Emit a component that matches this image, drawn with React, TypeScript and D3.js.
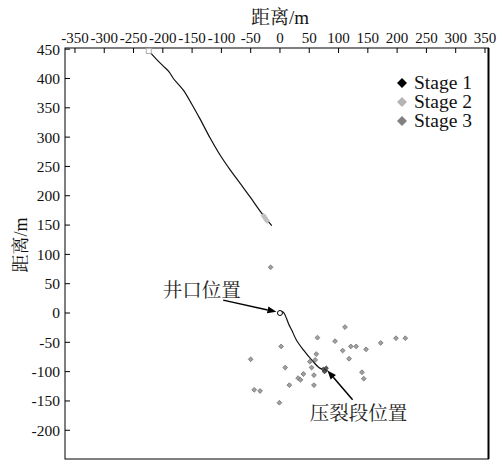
import React from "react";
import * as d3 from "d3";

const W = 497;
const H = 460;

const xTicks = [-350, -300, -250, -200, -150, -100, -50, 0, 50, 100, 150, 200, 250, 300, 350];
const yTicks = [450, 400, 350, 300, 250, 200, 150, 100, 50, 0, -50, -100, -150, -200];

// Upper trajectory
const trajAx = [-224, -212, -200, -189, -182, -165, -151, -137, -119, -102, -85, -68, -51, -31, -14];
const trajAy = [447, 434, 422, 411, 400, 380, 357, 332, 298, 269, 244, 221, 198, 170, 149];

// Lower trajectory (from wellhead)
const trajBx = [0, 3, 7, 11, 15, 20, 28, 40, 54, 68, 77];
const trajBy = [0, 3, 0, -9, -19, -29, -46, -63, -80, -94, -97];

// Stage 1 events (black)
const s1x = [74, 78, 76, 79];
const s1y = [-96, -98, -100, -94];

// Stage 2 events (light gray)
const s2x = [-28, -26, -24, -22];
const s2y = [166, 163, 160, 157];

// Stage 3 events (gray)
const s3x = [111, 64, 94, 2, 121, 130, 172, 198, 214, 147, 107, -50, 62, 118, 51, 60, 54, 9, 140, 143, 40, 58, 31, 35, 16, 58, -44, -34, -1, -16];
const s3y = [-24, -42, -48, -57, -57, -57, -51, -43, -43, -62, -64, -79, -70, -78, -83, -80, -93, -93, -101, -112, -104, -106, -111, -114, -123, -123, -131, -133, -153, 78];

const legendLabels = ["Stage 1", "Stage 2", "Stage 3"];
const legendColors = ["#000000", "#b4b4b4", "#808080"];

// Annotations (data coords)
const ann1 = { text: "井口位置", tx: -200, ty: 27, x1: -97, y1: 22, x2: -6, y2: 2 };
const ann2 = { text: "压裂段位置", tx: 51, ty: -182, x1: 124, y1: -148, x2: 81, y2: -98 };

const FONT = "Liberation Serif, Noto Serif CJK SC, serif";
const CJK = "Noto Serif CJK SC, serif";

function diamond(cx: number, cy: number, r: number) {
  return `M${cx},${cy - r}L${cx + r},${cy}L${cx},${cy + r}L${cx - r},${cy}Z`;
}

export default function App() {
  const left = 65, right = 488.5, top = 48, bottom = 459;
  const x = d3.scaleLinear().domain([-367, 356]).range([left, right]);
  const y = d3.scaleLinear().domain([452, -249]).range([top, bottom]);

  const line = d3.line<[number, number]>().x((d) => x(d[0])).y((d) => y(d[1])).curve(d3.curveCatmullRom);
  const trajA = trajAx.map((v, i) => [v, trajAy[i]] as [number, number]);
  const trajB = trajBx.map((v, i) => [v, trajBy[i]] as [number, number]);

  const arrow = (a: typeof ann1, key: string) => {
    const X1 = x(a.x1), Y1 = y(a.y1), X2 = x(a.x2), Y2 = y(a.y2);
    const ang = Math.atan2(Y2 - Y1, X2 - X1);
    const L = 9, Wd = 3.5;
    const bx = X2 - L * Math.cos(ang), by = Y2 - L * Math.sin(ang);
    const p1 = [bx + Wd * Math.sin(ang), by - Wd * Math.cos(ang)];
    const p2 = [bx - Wd * Math.sin(ang), by + Wd * Math.cos(ang)];
    return (
      <g key={key}>
        <line x1={X1} y1={Y1} x2={bx} y2={by} stroke="#000" strokeWidth={1.5} />
        <path d={`M${X2},${Y2}L${p1[0]},${p1[1]}L${p2[0]},${p2[1]}Z`} fill="#000" />
        <text x={x(a.tx)} y={y(a.ty)} fontSize={19.5} style={{ fontFamily: CJK }} fill="#222">{a.text}</text>
      </g>
    );
  };

  const tstyle = { fontFamily: FONT };

  return (
    <svg width={W} height={H} style={{ position: "absolute", left: 0, top: 0, background: "#fff" }}>
      <rect x={0} y={0} width={W} height={H} fill="#fff" />
      {/* Frame */}
      <rect x={left} y={top} width={right - left} height={bottom - top} fill="none" stroke="#000" strokeWidth={1} />
      <line x1={right} y1={top} x2={right} y2={bottom} stroke="#000" strokeWidth={2} />

      {/* Top x axis */}
      {xTicks.map((t) => (
        <g key={"xt" + t}>
          <line x1={x(t)} x2={x(t)} y1={top} y2={top + 5} stroke="#000" />
          <text x={x(t)} y={top - 5} textAnchor="middle" fontSize={15} fill="#111" style={tstyle}>{t}</text>
        </g>
      ))}
      <text x={x(0)} y={24} textAnchor="middle" fontSize={19} fill="#111" style={tstyle}>距离/m</text>

      {/* Left y axis */}
      {yTicks.map((t) => (
        <g key={"yt" + t}>
          <line x1={left} x2={left + 5} y1={y(t)} y2={y(t)} stroke="#000" />
          <text x={left - 5} y={y(t)} dy="0.35em" textAnchor="end" fontSize={15.5} fill="#111" style={tstyle}>{t}</text>
        </g>
      ))}
      <text transform={`translate(27,245) rotate(-90)`} textAnchor="middle" fontSize={18} fill="#111" style={tstyle}>距离/m</text>

      {/* Trajectories */}
      <path d={line(trajA) || ""} fill="none" stroke="#111" strokeWidth={1.2} />
      <path d={line(trajB) || ""} fill="none" stroke="#111" strokeWidth={1.2} />
      <rect x={x(trajAx[0]) - 2.5} y={y(trajAy[0]) - 2.5} width={5} height={5} fill="#fff" stroke="#aaa" strokeWidth={1} />
      <circle cx={x(0)} cy={y(0)} r={2.5} fill="#fff" stroke="#000" strokeWidth={1} />

      {/* Stage 3 */}
      {s3x.map((v, i) => (
        <path key={"s3" + i} d={diamond(x(v), y(s3y[i]), 2.4)} fill="#a0a0a0" stroke="#707070" strokeWidth={0.8} />
      ))}
      {/* Stage 2 */}
      {s2x.map((v, i) => (
        <path key={"s2" + i} d={diamond(x(v), y(s2y[i]), 2.5)} fill="#c4c4c4" stroke="#b0b0b0" strokeWidth={0.6} />
      ))}
      {/* Stage 1 */}
      {s1x.map((v, i) => (
        <path key={"s1" + i} d={diamond(x(v), y(s1y[i]), 2.2)} fill="#555" stroke="#222" strokeWidth={0.6} />
      ))}

      {arrow(ann1, "a1")}
      {arrow(ann2, "a2")}

      {/* Legend */}
      {legendLabels.map((l, i) => (
        <g key={l}>
          <path d={diamond(402, 83 + i * 19, 5)} fill={legendColors[i]} />
          <text x={414} y={83 + i * 19} dy="0.33em" fontSize={19.5} fill="#111" style={tstyle}>{l}</text>
        </g>
      ))}
    </svg>
  );
}
